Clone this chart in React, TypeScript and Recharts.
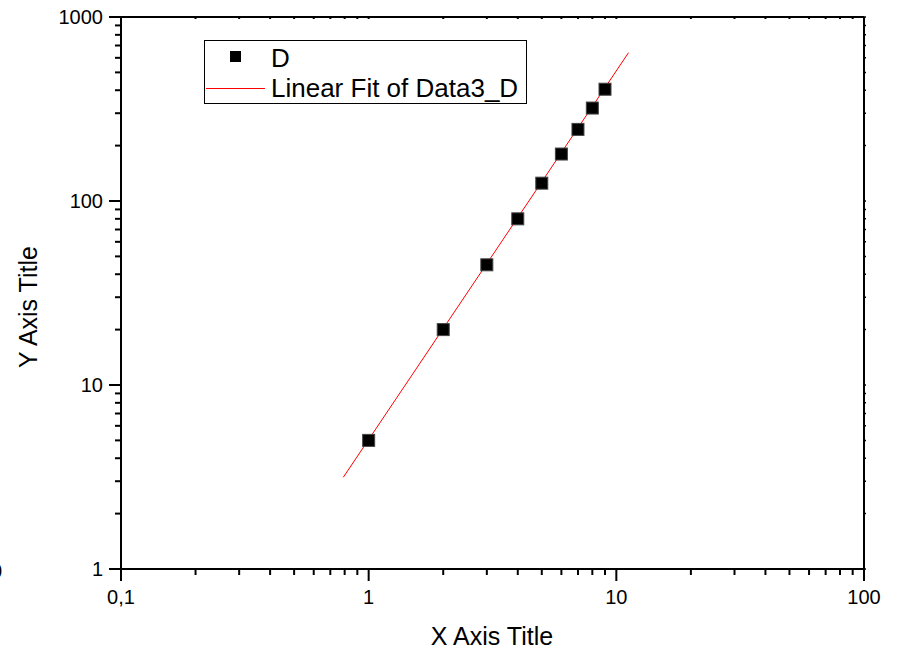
import { ScatterChart, Scatter, XAxis, YAxis, Legend } from "recharts";

const xValues = [1, 2, 3, 4, 5, 6, 7, 8, 9];
const dValues = [5, 20, 45, 80, 125, 180, 245, 320, 405];

const fitX = [0.79, 11.2];
const fitY = [3.15, 640];

const xMajorTicks = [0.1, 1, 10, 100];
const xMinorTicks = [0.2, 0.3, 0.4, 0.5, 0.6, 0.7, 0.8, 0.9, 2, 3, 4, 5, 6, 7, 8, 9, 20, 30, 40, 50, 60, 70, 80, 90];
const xTickLabels = ["0,1", "1", "10", "100"];

const yMajorTicks = [1, 10, 100, 1000];
const yMinorTicks = [2, 3, 4, 5, 6, 7, 8, 9, 20, 30, 40, 50, 60, 70, 80, 90, 200, 300, 400, 500, 600, 700, 800, 900];
const yTickLabels = ["1", "10", "100", "1000"];

const pointData = xValues.map((x, i) => ({ x, y: dValues[i] }));
const fitData = fitX.map((x, i) => ({ x, y: fitY[i] }));

const FONT = "'Liberation Sans', Arial, sans-serif";
const allX = [...xMajorTicks, ...xMinorTicks];
const allY = [...yMajorTicks, ...yMinorTicks];

function BottomTick(props: any) {
  const { x, y, payload } = props;
  const idx = xMajorTicks.indexOf(payload.value);
  const major = idx >= 0;
  return (
    <g>
      <line x1={x} x2={x} y1={y} y2={y + (major ? 12 : 6)} stroke="#000" strokeWidth={2} />
      {major && (
        <text x={x} y={y + 28} textAnchor="middle" dominantBaseline="central" fontSize={20} fill="#000" fontFamily={FONT}>
          {xTickLabels[idx]}
        </text>
      )}
    </g>
  );
}

function LeftTick(props: any) {
  const { x, y, payload } = props;
  const idx = yMajorTicks.indexOf(payload.value);
  const major = idx >= 0;
  return (
    <g>
      <line x1={x - (major ? 12 : 6)} x2={x} y1={y} y2={y} stroke="#000" strokeWidth={2} />
      {major && (
        <text x={x - 18} y={y} textAnchor="end" dominantBaseline="central" fontSize={20} fill="#000" fontFamily={FONT}>
          {yTickLabels[idx]}
        </text>
      )}
    </g>
  );
}

function TopTick(props: any) {
  const { x, y } = props;
  return <line x1={x} x2={x} y1={y} y2={y + 2} stroke="#000" strokeWidth={2} />;
}

function RightTick(props: any) {
  const { x, y } = props;
  return <line x1={x} x2={x + 2} y1={y} y2={y} stroke="#000" strokeWidth={1.5} />;
}

function SquareDot(props: any) {
  const { cx, cy } = props;
  if (cx == null || cy == null) return null;
  return <rect x={cx - 6} y={cy - 6} width={12} height={12} fill="#000" stroke="#444" strokeWidth={1} />;
}

function LegendBox() {
  return (
    <div
      style={{
        width: 323,
        height: 64,
        border: "1px solid #000",
        background: "#fff",
        fontFamily: FONT,
        fontSize: 26,
        color: "#000",
        position: "relative",
        boxSizing: "border-box",
      }}
    >
      <div style={{ position: "absolute", left: 25, top: 10, width: 11, height: 11, background: "#000" }} />
      <div style={{ position: "absolute", left: 66, top: 2, lineHeight: "30px" }}>D</div>
      <div style={{ position: "absolute", left: 1, top: 47, width: 59, height: 1, background: "#ff0000" }} />
      <div style={{ position: "absolute", left: 66, top: 32, lineHeight: "30px", whiteSpace: "nowrap" }}>Linear Fit of Data3_D</div>
    </div>
  );
}

export default function App() {
  return (
    <div style={{ position: "absolute", left: 0, top: 0, width: 897, height: 651, background: "#fff", fontFamily: FONT }}>
      <ScatterChart width={897} height={651} margin={{ top: 16, right: 32, bottom: 2, left: 1 }}>
        <XAxis
          dataKey="x"
          type="number"
          scale="log"
          domain={[0.1, 100]}
          ticks={allX}
          interval={0}
          allowDataOverflow
          height={80}
          tickSize={0}
          tickMargin={0}
          tickLine={false}
          axisLine={{ stroke: "#000", strokeWidth: 2 }}
          tick={<BottomTick />}
        />
        <XAxis
          xAxisId="top"
          orientation="top"
          dataKey="x"
          type="number"
          scale="log"
          domain={[0.1, 100]}
          ticks={allX}
          interval={0}
          allowDataOverflow
          height={1}
          tickSize={0}
          tickMargin={0}
          tickLine={false}
          axisLine={{ stroke: "#000", strokeWidth: 2 }}
          tick={<TopTick />}
        />
        <YAxis
          dataKey="y"
          type="number"
          scale="log"
          domain={[1, 1000]}
          ticks={allY}
          interval={0}
          allowDataOverflow
          width={120}
          tickSize={0}
          tickMargin={0}
          tickLine={false}
          axisLine={{ stroke: "#000", strokeWidth: 2 }}
          tick={<LeftTick />}
        />
        <YAxis
          yAxisId="right"
          orientation="right"
          dataKey="y"
          type="number"
          scale="log"
          domain={[1, 1000]}
          ticks={allY}
          interval={0}
          allowDataOverflow
          width={1}
          tickSize={0}
          tickMargin={0}
          tickLine={false}
          axisLine={{ stroke: "#000", strokeWidth: 2 }}
          tick={<RightTick />}
        />
        <Legend
          layout="vertical"
          align="center"
          verticalAlign="middle"
          wrapperStyle={{ position: "absolute", left: 204, top: 40, width: 323, height: 64 }}
          content={() => <LegendBox />}
        />
        <Scatter
          name="Linear Fit of Data3_D"
          data={fitData}
          line={{ stroke: "#ff0000", strokeWidth: 1 }}
          shape={() => null}
          isAnimationActive={false}
        />
        <Scatter name="D" data={pointData} shape={<SquareDot />} isAnimationActive={false} />
      </ScatterChart>
      <div
        style={{
          position: "absolute",
          left: 492,
          top: 636,
          fontSize: 25,
          whiteSpace: "nowrap",
          transform: "translate(-50%, -50%)",
        }}
      >
        X Axis Title
      </div>
      <div
        style={{
          position: "absolute",
          left: 28,
          top: 307,
          fontSize: 25,
          whiteSpace: "nowrap",
          transform: "translate(-50%, -50%) rotate(-90deg)",
        }}
      >
        Y Axis Title
      </div>
      <div style={{ position: "absolute", left: -9, top: 560, fontSize: 20 }}>0</div>
    </div>
  );
}
